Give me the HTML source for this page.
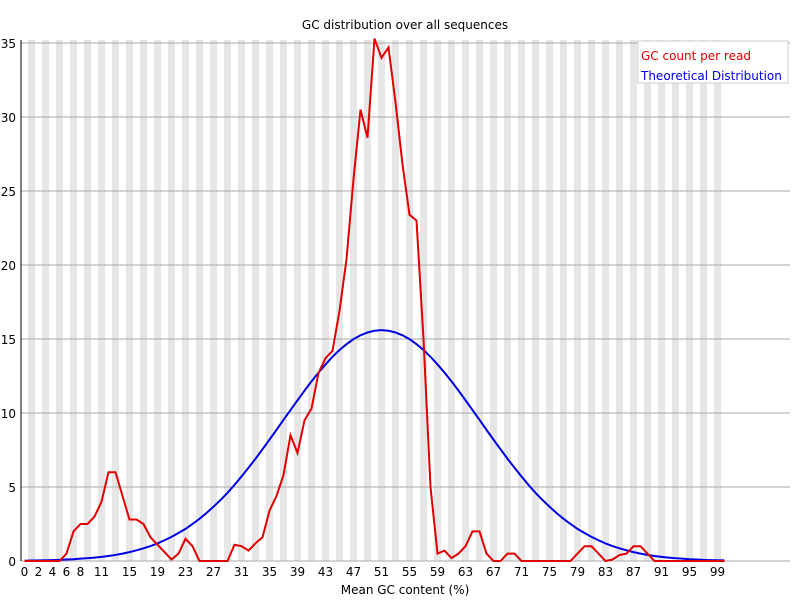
<!DOCTYPE html>
<html><head><meta charset="utf-8"><style>
body{margin:0;background:#fff}
svg text{font-family:"DejaVu Sans","Liberation Sans",sans-serif;font-size:12px}
</style></head><body>
<svg id="chart" width="800" height="600" xmlns="http://www.w3.org/2000/svg">
<g id="stripes"></g>
<g id="grid"></g>
<line x1="21" y1="40" x2="21" y2="561" stroke="#000"/>
<g id="yticks"></g>
<g id="xticks"></g>
<path id="theo" fill="none" stroke="#0000e6" stroke-width="2"/>
<path id="gc" fill="none" stroke="#e00000" stroke-width="2"/>
<text x="405" y="29" text-anchor="middle">GC distribution over all sequences</text>
<text x="405" y="594" text-anchor="middle">Mean GC content (%)</text>
<g>
<rect x="638" y="41" width="150" height="42" fill="#fff" stroke="#ccc"/>
<text x="641" y="60" fill="#e00000">GC count per read</text>
<text x="641" y="80" fill="#0000e6">Theoretical Distribution</text>
</g>
</svg>
<script>
const gcCounts=[0,0,0,0,0,0,0.5,2.0,2.5,2.5,3.0,4.0,6.0,6.0,4.4,2.8,2.8,2.5,1.6,1.1,0.6,0.1,0.5,1.5,1.0,0,0,0,0,0,1.1,1.0,0.7,1.2,1.6,3.4,4.4,5.8,8.5,7.3,9.5,10.3,12.7,13.7,14.2,16.9,20.4,25.8,30.5,28.6,35.3,34.0,34.7,31.0,26.8,23.4,23.0,15.0,5.0,0.5,0.7,0.2,0.5,1.0,2.0,2.0,0.5,0,0,0.5,0.5,0,0,0,0,0,0,0,0,0.5,1.0,1.0,0.5,0,0.1,0.4,0.5,1.0,1.0,0.5,0,0,0,0,0,0,0,0,0,0,0];
const theoretical=[0.02,0.03,0.04,0.05,0.06,0.08,0.10,0.12,0.16,0.19,0.23,0.28,0.34,0.41,0.50,0.60,0.72,0.86,1.01,1.19,1.40,1.63,1.89,2.17,2.50,2.85,3.24,3.67,4.12,4.61,5.14,5.71,6.30,6.91,7.55,8.20,8.86,9.54,10.20,10.86,11.51,12.14,12.73,13.28,13.80,14.26,14.65,14.99,15.25,15.44,15.56,15.60,15.56,15.44,15.25,14.99,14.65,14.26,13.80,13.28,12.73,12.14,11.51,10.86,10.20,9.54,8.86,8.20,7.55,6.91,6.30,5.71,5.14,4.61,4.12,3.67,3.24,2.85,2.50,2.17,1.89,1.63,1.40,1.19,1.01,0.86,0.72,0.60,0.50,0.41,0.34,0.28,0.23,0.19,0.16,0.12,0.10,0.08,0.06,0.05,0.04];
const yTicks=[0,5,10,15,20,25,30,35];
const xTickLabels=[0,2,4,6,8,11,15,19,23,27,31,35,39,43,47,51,55,59,63,67,71,75,79,83,87,91,95,99];
const NS="http://www.w3.org/2000/svg";
const xS=i=>24.5+7*i;
const yS=v=>561-14.8*v;
const svg=document.getElementById('chart');
const st=document.getElementById('stripes');
for(let i=1;i<100;i+=2){const r=document.createElementNS(NS,'rect');
r.setAttribute('x',21+7*i);r.setAttribute('y',40);r.setAttribute('width',7);r.setAttribute('height',521);r.setAttribute('fill','#e6e6e6');


st.appendChild(r);}
const g=document.getElementById('grid'),yt=document.getElementById('yticks');
yTicks.forEach(v=>{const l=document.createElementNS(NS,'line');
l.setAttribute('x1',21);l.setAttribute('x2',790);l.setAttribute('y1',yS(v));l.setAttribute('y2',yS(v));l.setAttribute('stroke','#aaa');


g.appendChild(l);
const t=document.createElementNS(NS,'text');t.setAttribute('x',16);t.setAttribute('y',yS(v)+5);t.setAttribute('text-anchor','end');t.textContent=v;


yt.appendChild(t);});
const xt=document.getElementById('xticks');
xTickLabels.forEach(v=>{const t=document.createElementNS(NS,'text');t.setAttribute('x',xS(v));t.setAttribute('y',576);t.setAttribute('text-anchor','middle');t.textContent=v;


xt.appendChild(t);});
const path=a=>a.map((v,i)=>(i?'L':'M')+xS(i)+' '+yS(v)).join(' ');
document.getElementById('theo').setAttribute('d',path(theoretical));
document.getElementById('gc').setAttribute('d',path(gcCounts));
</script>
</body></html>
